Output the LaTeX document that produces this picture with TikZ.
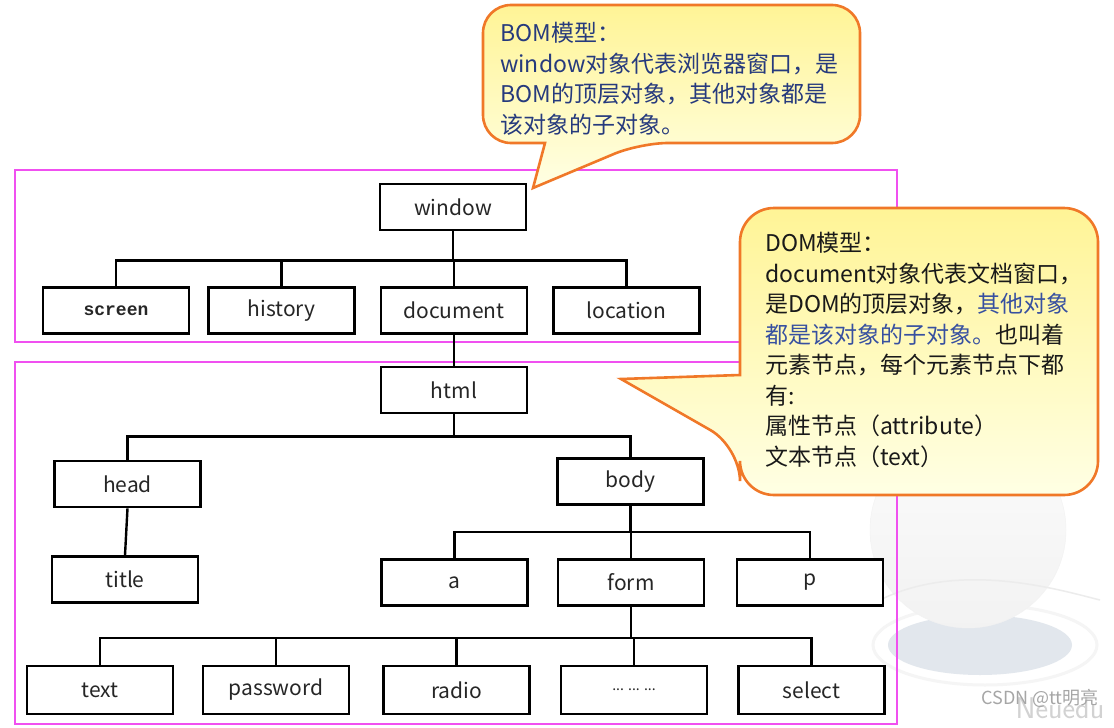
\documentclass[tikz,border=0pt]{standalone}
\usepackage{fontspec}
\newfontfamily\cjk{Noto Sans CJK SC}
\newfontfamily\codefont{Liberation Mono}
\usepackage{tikz}
\usetikzlibrary{positioning, calc}

\definecolor{framemag}{RGB}{240,80,240}
\definecolor{noteedge}{RGB}{240,120,40}
\definecolor{notetop}{RGB}{255,244,150}
\definecolor{notebot}{RGB}{255,255,228}
\definecolor{bomtext}{RGB}{38,58,125}
\definecolor{domtext}{RGB}{25,25,25}
\definecolor{domblue}{RGB}{55,80,160}
\definecolor{saucer}{RGB}{214,221,230}

\begin{document}
\begin{tikzpicture}[x=1pt, y=-1pt,
  tag/.style={draw=black, fill=white, line width=2.6pt, minimum width=146pt,
    minimum height=46pt, inner sep=0pt, font={\cjk\fontsize{21}{24}\selectfont}, text=black!85},
  link/.style={line width=2.4pt, black},
  frame/.style={draw=framemag, line width=2pt},
  bubble/.style={draw=noteedge, line width=2.6pt, top color=notetop, bottom color=notebot},
  note/.style={anchor=north west, align=left, inner sep=0pt,
    font={\cjk\fontsize{23}{30.5}\selectfont}}
]
  \useasboundingbox (0,0) rectangle (1114,728);
  \fill[white] (0,0) rectangle (1114,728);

  % faint globe in the background
  \draw[gray!8, line width=3pt, fill=white] (985,645) ellipse (112 and 40);
  \fill[saucer!70] (980,645) ellipse (92 and 30);
  \draw[gray!10, top color=gray!3, bottom color=gray!10] (968,530) circle (98);
  \draw[gray!15, line width=1.5pt] (880,600) .. controls (960,560) and (1060,590) .. (1100,600);

  % the two frames
  \draw[frame] (15,170) rectangle (897,342);
  \draw[frame] (15,362) rectangle (897,724);

  % BOM tree
  \node[tag] (window)   at (453,207)   {window};
  \node[tag] (screen)   at (116,310.5) {\codefont\bfseries\fontsize{18}{20}\selectfont screen};
  \node[tag] (history)  at (281.5,310.5) {history};
  \node[tag] (document) at (454,310.5) {document};
  \node[tag] (location) at (626.5,310.5) {location};

  \foreach \c in {screen,history,document,location}
    \draw[link] (window.south) -- ++(0,29) -| (\c.north);

  % DOM tree
  \node[tag] (html)  at (454,390)   {html};
  \node[tag] (head)  at (127.5,484) {head};
  \node[tag] (body)  at (630.5,481.5) {body};
  \node[tag] (title) at (125,579.5) {title};
  \node[tag] (a)     at (454.5,582.5) {a};
  \node[tag] (form)  at (631,582.5) {form};
  \node[tag] (p)     at (810,582.5) {p};

  \node[tag, minimum height=48pt] (text)     at (100,690)   {text};
  \node[tag, minimum height=48pt] (password) at (276,690)   {password};
  \node[tag, minimum height=48pt] (radio)    at (456.5,690) {radio};
  \node[tag, minimum height=48pt] (more)     at (634,690)   {\fontsize{14}{16}\selectfont ... ... ...};
  \node[tag, minimum height=48pt] (select)   at (811.5,690) {select};

  \draw[link] (document.south) -- (html.north);
  \foreach \c in {head,body}
    \draw[link] (html.south) -- ++(0,22) -| (\c.north);
  \draw[link] (head.south) -- (title.north);
  \foreach \c in {a,form,p}
    \draw[link] (body.south) -- ++(0,26) -| (\c.north);
  \foreach \c in {text,password,radio,more,select}
    \draw[link] (form.south) -- ++(0,31) -| (\c.north);

  % callouts
  \draw[bubble, rounded corners=28pt] (483,5) -- (860,5) -- (860,143) -- (640,143)
    [sharp corners] -- (533,188) -- (545,143) [rounded corners=28pt] -- (483,143) -- cycle;
  \node[note, text=bomtext] (bomnote) at (500,22)
    {BOM模型：\\window对象代表浏览器窗口，是\\BOM的顶层对象，其他对象都是\\该对象的子对象。};

  \draw[bubble, rounded corners=34pt] (740,208) -- (1098,208) -- (1098,495) -- (740,495)
    -- (740,447) [sharp corners] -- (621,379) -- (740,375) [rounded corners=34pt] -- cycle;
  \node[note, text=domtext] (domnote) at (765,232)
    {DOM模型：\\document对象代表文档窗口，\\是DOM的顶层对象，\textcolor{domblue}{其他对象}\\%
     \textcolor{domblue}{都是该对象的子对象。}也叫着\\元素节点，每个元素节点下都\\有:\\%
     属性节点（attribute）\\文本节点（text）};

  % watermark
  \node[gray!35, font={\fontsize{30}{32}\selectfont\sffamily}] (logo) at (1060,708) {Neuedu};
  \node[gray!70, font={\cjk\fontsize{18}{20}\selectfont}] (mark) at (1040,698) {CSDN @tt明亮};
\end{tikzpicture}
\end{document}
